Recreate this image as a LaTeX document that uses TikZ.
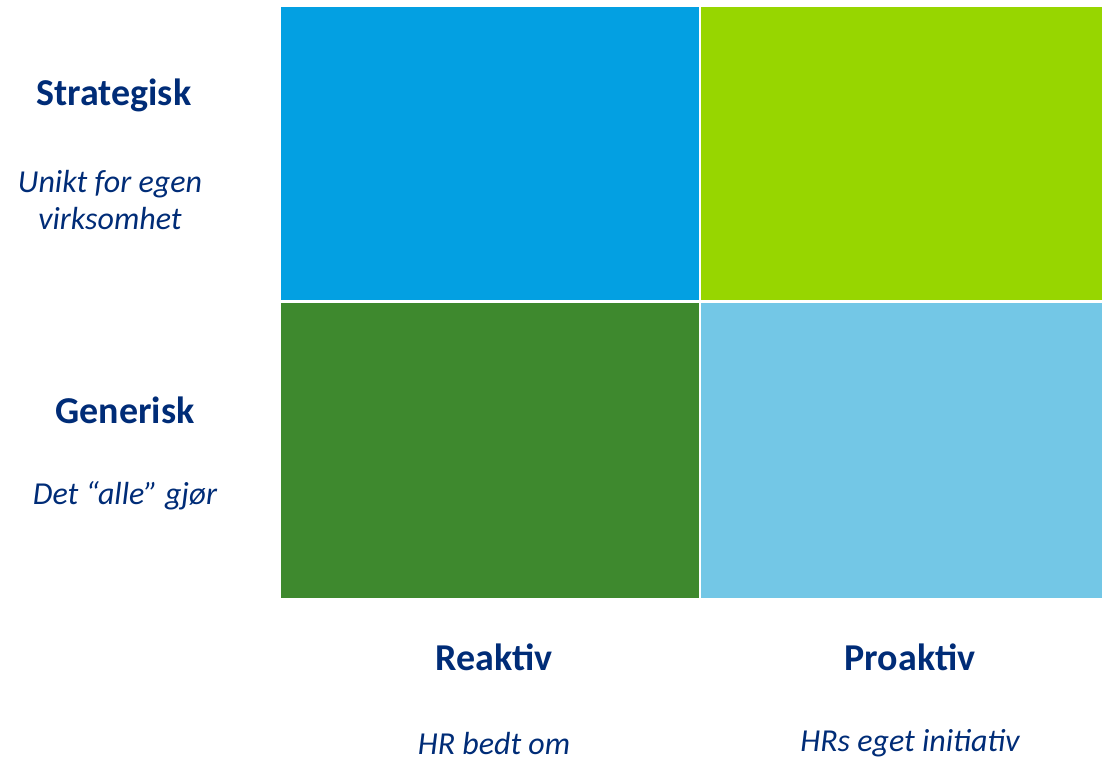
\documentclass[tikz,border=0pt]{standalone}
\usepackage{fontspec}
\setmainfont{Carlito}
\usepackage{xcolor}
\definecolor{hrnavy}{RGB}{0,44,119}
\definecolor{hrblue}{RGB}{3,160,226}
\definecolor{hrlime}{RGB}{151,214,0}
\definecolor{hrgreen}{RGB}{62,137,46}
\definecolor{hrsky}{RGB}{115,199,230}
\usetikzlibrary{positioning}

\tikzset{
  axislabel/.style={font=\fontsize{21.6}{26}\selectfont\bfseries, text=hrnavy, align=center},
  axisnote/.style={font=\fontsize{18.2}{21.5}\selectfont\itshape, text=hrnavy, align=center},
  quad/.style={draw=white, line width=1.2pt}
}

\begin{document}
\begin{tikzpicture}
  \useasboundingbox (0,0) rectangle (22.04,15.2);

  % --- Quadrants ---
  \filldraw[quad, fill=hrblue]  (5.60,9.17) rectangle (14.00,15.08);
  \filldraw[quad, fill=hrlime]  (14.00,9.17) rectangle (22.10,15.08);
  \filldraw[quad, fill=hrgreen] (5.60,3.22) rectangle (14.00,9.17);
  \filldraw[quad, fill=hrsky]   (14.00,3.22) rectangle (22.10,9.17);

  % --- Vertical axis ---
  \node[axislabel] (strat)   at (2.28,13.3) {Strategisk};
  \node[axisnote]  (unikt)   at (2.2,11.2)  {Unikt for egen\\virksomhet};
  \node[axislabel] (gen)     at (2.5,7.0)   {Generisk};
  \node[axisnote]  (alle)    at (2.5,5.28)  {Det “alle” gjør};

  % --- Horizontal axis ---
  \node[axislabel] (reaktiv) at (9.88,2.06)  {Reaktiv};
  \node[axislabel] (proakt)  at (18.2,2.06)  {Proaktiv};
  \node[axisnote]  (bedt)    at (9.88,0.33)  {HR bedt om};
  \node[axisnote]  (eget)    at (18.2,0.33)  {HRs eget initiativ};
\end{tikzpicture}
\end{document}
